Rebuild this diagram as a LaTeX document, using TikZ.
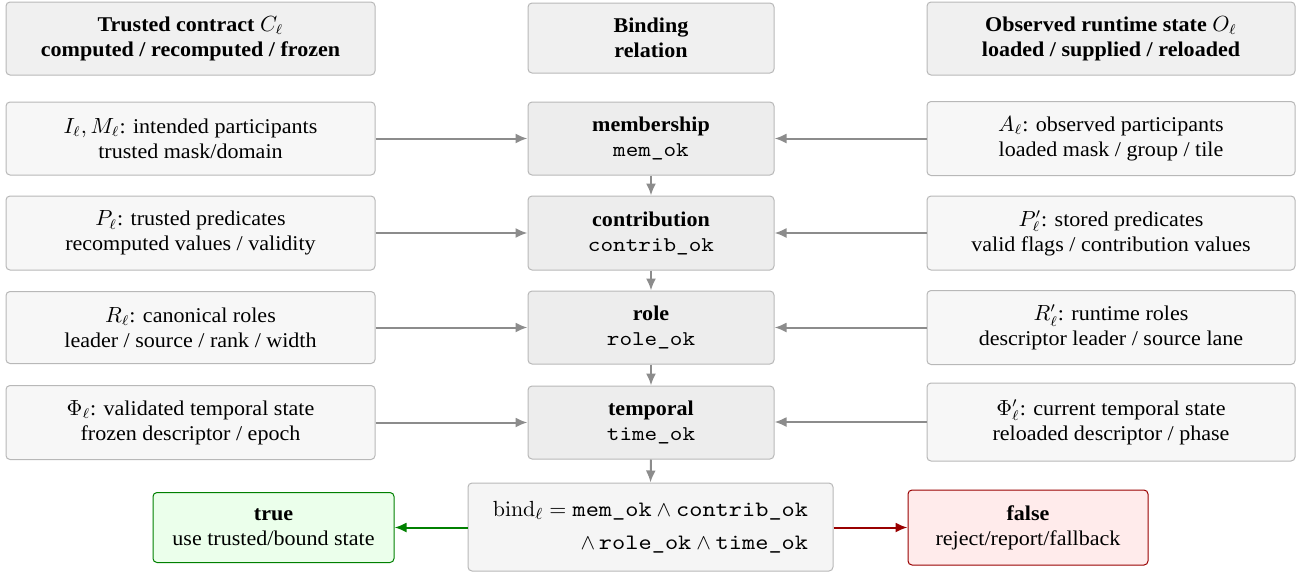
\documentclass[tikz,border=0pt]{standalone}
\usepackage[no-math]{fontspec}
\setmainfont[FakeStretch=1.05]{Liberation Serif}
\setmonofont[FakeStretch=1.143]{Latin Modern Mono}
\usetikzlibrary{arrows.meta}
\begin{document}
\begin{tikzpicture}[x=0.5pt,y=-0.5pt,
  box/.style={rectangle, rounded corners=2pt, draw=black!28, line width=0.5pt, align=center, inner sep=0pt, font=\fontsize{10.5}{12.5}\selectfont},
  hdr/.style={box, fill=black!6, font=\fontsize{10.5}{12.5}\selectfont\bfseries},
  side/.style={box, fill=black!3},
  rel/.style={box, fill=black!7},
  bindbox/.style={box, fill=black!4, font=\fontsize{11}{13}\selectfont},
  truebox/.style={box, draw=green!50!black, fill=green!8},
  falsebox/.style={box, draw=red!60!black, fill=red!8},
  arr/.style={draw=black!45, line width=1pt, -{Latex[length=6pt,width=5pt]}},
  garr/.style={draw=green!50!black, line width=1pt, -{Latex[length=6pt,width=5pt]}},
  rarr/.style={draw=red!60!black, line width=1pt, -{Latex[length=6pt,width=5pt]}}
]
\useasboundingbox (0,0) rectangle (1296,575);
% headers
\node[hdr, minimum width=184.5pt, minimum height=36.5pt] (hL) at (190.5,38.5) {Trusted contract $C_\ell$\\computed / recomputed / frozen};
\node[hdr, minimum width=123pt, minimum height=35pt] (hC) at (651,38) {Binding\\relation};
\node[hdr, minimum width=184pt, minimum height=36.5pt] (hR) at (1111,38.5) {Observed runtime state $O_\ell$\\loaded / supplied / reloaded};
% left column
\node[side, minimum width=184.5pt, minimum height=36.5pt] (L1) at (190.5,138.5) {$I_\ell, M_\ell$: intended participants\\trusted mask/domain};
\node[side, minimum width=184.5pt, minimum height=37pt] (L2) at (190.5,233) {$P_\ell$: trusted predicates\\recomputed values / validity};
\node[side, minimum width=184.5pt, minimum height=36pt] (L3) at (190.5,327.5) {$R_\ell$: canonical roles\\leader / source / rank / width};
\node[side, minimum width=184.5pt, minimum height=37pt] (L4) at (190.5,422.5) {$\Phi_\ell$: validated temporal state\\frozen descriptor / epoch};
% center column
\node[rel, minimum width=123pt, minimum height=36.5pt] (C1) at (651,138.5) {\textbf{membership}\\\texttt{mem\_ok}};
\node[rel, minimum width=123pt, minimum height=37pt] (C2) at (651,233) {\textbf{contribution}\\\texttt{contrib\_ok}};
\node[rel, minimum width=123pt, minimum height=36.5pt] (C3) at (651,327.5) {\textbf{role}\\\texttt{role\_ok}};
\node[rel, minimum width=123pt, minimum height=36.5pt] (C4) at (651,422.5) {\textbf{temporal}\\\texttt{time\_ok}};
% right column
\node[side, minimum width=184pt, minimum height=37pt] (R1) at (1111,138.5) {$A_\ell$: observed participants\\loaded mask / group / tile};
\node[side, minimum width=184pt, minimum height=37pt] (R2) at (1111,233) {$P'_\ell$: stored predicates\\valid flags / contribution values};
\node[side, minimum width=184pt, minimum height=37pt] (R3) at (1111,327.5) {$R'_\ell$: runtime roles\\descriptor leader / source lane};
\node[side, minimum width=184pt, minimum height=39pt] (R4) at (1111,422) {$\Phi'_\ell$: current temporal state\\reloaded descriptor / phase};
% bottom
\node[bindbox, minimum width=182.5pt, minimum height=44pt, align=right] (B) at (650.5,527) {$\mathrm{bind}_\ell = \texttt{mem\_ok} \land \texttt{contrib\_ok}$\\[3.5pt]$\land\, \texttt{role\_ok} \land \texttt{time\_ok}$};
\node[truebox, minimum width=120.5pt, minimum height=35pt] (T) at (273.5,527.5) {\textbf{true}\\use trusted/bound state};
\node[falsebox, minimum width=120pt, minimum height=37.5pt] (F) at (1028,527.5) {\textbf{false}\\reject/report/fallback};
% connectors
\foreach \i in {1,2,3,4} {
  \draw[arr] (L\i.east) -- (C\i.west);
  \draw[arr] (R\i.west) -- (C\i.east |- R\i.west);
}
\draw[arr] (C1.south) -- (C2.north);
\draw[arr] (C2.south) -- (C3.north);
\draw[arr] (C3.south) -- (C4.north);
\draw[arr] (C4.south) -- (B.north);
\draw[garr] (B.west |- T.east) -- (T.east);
\draw[rarr] (B.east |- F.west) -- (F.west);
\end{tikzpicture}
\end{document}
